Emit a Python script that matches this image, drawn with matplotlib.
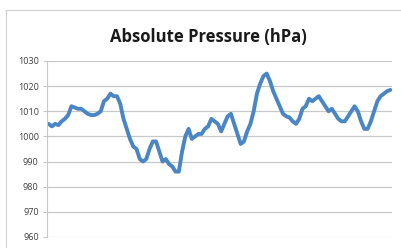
import matplotlib
matplotlib.use('Agg')
import matplotlib.pyplot as plt
from matplotlib.patches import Rectangle
import numpy as np

# pressure readings (evenly spaced samples)
pressure = [1005, 1004, 1005, 1004.5, 1006, 1007, 1008.5, 1012, 1011.5, 1011,
            1011, 1010, 1009, 1008.5, 1008.5, 1009, 1010, 1014, 1015, 1017,
            1016, 1016, 1013, 1007, 1003, 999, 996, 995, 991, 990,
            991, 995, 998, 998, 994, 990, 991, 989, 988, 986,
            986, 994, 1000, 1003, 999, 1000, 1001, 1001, 1003, 1004,
            1007, 1006, 1005, 1002, 1005, 1008, 1009, 1005, 1001, 997,
            998, 1002, 1005, 1010, 1017, 1021, 1024, 1025, 1022, 1018,
            1015, 1012, 1009, 1008, 1007.5, 1006, 1005, 1007, 1011, 1012,
            1015, 1014, 1015, 1016, 1014, 1012, 1010, 1011, 1009, 1007,
            1006, 1006, 1008, 1010, 1012, 1010, 1006, 1003, 1003, 1006,
            1010, 1014, 1016, 1017, 1018, 1018.5]
y_ticks = [960, 970, 980, 990, 1000, 1010, 1020, 1030]

fig = plt.figure(figsize=(4.01, 2.48), dpi=100)
fig.patch.set_facecolor('white')

# chart area border (only left/top visible in the crop)
fig.patches.append(Rectangle((5.5 / 401, -0.1), 1.2, 1.1 - 9.5 / 248, transform=fig.transFigure,
                             fill=False, edgecolor='#d0d0d0', lw=0.8))

ax = fig.add_axes([47 / 401, 11 / 248, 345 / 401, 176 / 248])
x = np.arange(len(pressure))
ax.plot(x, pressure, color='#4a86c5', lw=2.8, solid_capstyle='round', solid_joinstyle='round')

ax.set_xlim(-0.5, len(pressure) - 0.5)
ax.set_ylim(960, 1030)
ax.set_yticks(y_ticks)
ax.set_xticks([])
ax.yaxis.grid(True, color='#c8c8c8', lw=0.9)
ax.set_axisbelow(True)
for s in ['top', 'right', 'bottom']:
    ax.spines[s].set_visible(False)
ax.spines['left'].set_color('#c8c8c8')
ax.tick_params(axis='y', length=3, color='#c8c8c8', labelsize=6.5, labelcolor='#404040', pad=3)
for lbl in ax.get_yticklabels():
    lbl.set_family('Open Sans')

fig.text(208 / 401, 1 - 37 / 248, 'Absolute Pressure (hPa)', ha='center', va='center',
         fontsize=12, fontweight='bold', family='Open Sans', color='#1a1a1a')

fig.savefig('out.png', dpi=100, facecolor='white')
